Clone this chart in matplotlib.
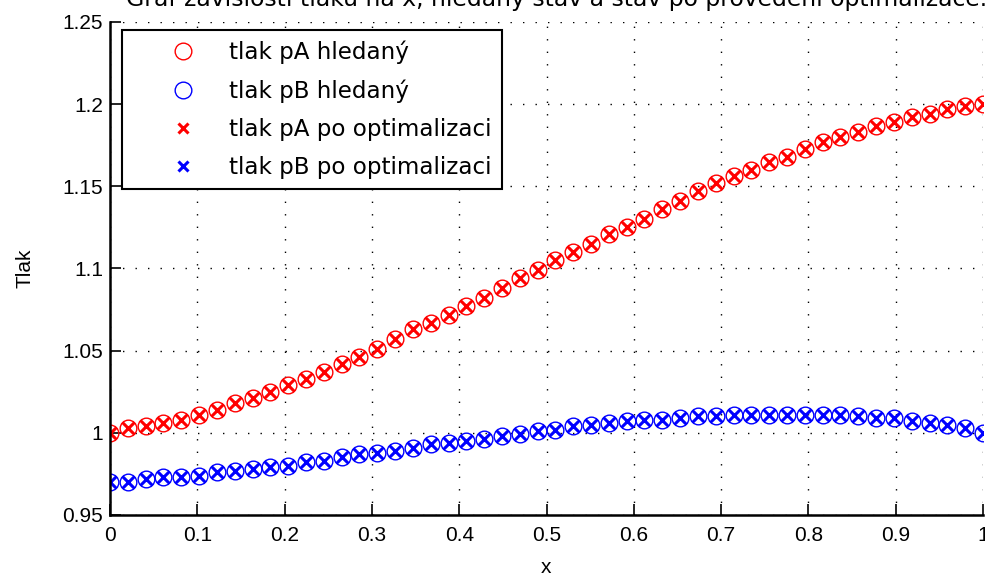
import numpy as np
import matplotlib.pyplot as plt
from matplotlib import font_manager
from matplotlib.lines import Line2D

# 50 uzlu na intervalu <0, 1>
x = np.linspace(0, 1, 50)

pA_hledany = [1.000, 1.003, 1.004, 1.006, 1.008, 1.011, 1.014, 1.018, 1.021, 1.025,
              1.029, 1.033, 1.037, 1.042, 1.046, 1.051, 1.057, 1.063, 1.067, 1.072,
              1.077, 1.082, 1.088, 1.094, 1.099, 1.105, 1.110, 1.115, 1.121, 1.125,
              1.130, 1.136, 1.141, 1.147, 1.152, 1.156, 1.160, 1.165, 1.168, 1.173,
              1.177, 1.180, 1.183, 1.187, 1.189, 1.192, 1.194, 1.197, 1.199, 1.200]
pB_hledany = [0.970, 0.970, 0.972, 0.973, 0.973, 0.974, 0.976, 0.977, 0.978, 0.979,
              0.980, 0.982, 0.983, 0.985, 0.987, 0.988, 0.989, 0.991, 0.993, 0.994,
              0.995, 0.996, 0.998, 0.999, 1.001, 1.002, 1.004, 1.005, 1.006, 1.007,
              1.008, 1.008, 1.009, 1.010, 1.010, 1.011, 1.011, 1.011, 1.011, 1.011,
              1.011, 1.011, 1.010, 1.009, 1.009, 1.007, 1.006, 1.005, 1.003, 1.000]
# vysledek optimalizace se s hledanym stavem kryje
pA_opt = list(pA_hledany)
pB_opt = list(pB_hledany)

xticks = [0, 0.1, 0.2, 0.3, 0.4, 0.5, 0.6, 0.7, 0.8, 0.9, 1]
xticklabels = ['0', '0.1', '0.2', '0.3', '0.4', '0.5', '0.6', '0.7', '0.8', '0.9', '1']
yticks = [0.95, 1.0, 1.05, 1.1, 1.15, 1.2, 1.25]
yticklabels = ['0.95', '1', '1.05', '1.1', '1.15', '1.2', '1.25']

# uzke pismo pro popisky os, pokud je k dispozici
installed = {f.name for f in font_manager.fontManager.ttflist}
narrow = 'Liberation Sans'
for name in ['Liberation Sans Narrow', 'DejaVu Sans Condensed']:
    if name in installed:
        narrow = name
        break
tick_size = 17.5 if narrow == 'Liberation Sans Narrow' else 15

fig = plt.figure(figsize=(9.85, 5.8), dpi=100)
ax = fig.add_axes([110 / 985, 1 - 515 / 580, 873 / 985, 493 / 580])

ax.plot(x, pA_hledany, 'o', color='red', mfc='none', ms=12, mew=1.0)
ax.plot(x, pB_hledany, 'o', color='blue', mfc='none', ms=12, mew=1.0)
ax.plot(x, pA_opt, 'x', color='red', ms=8, mew=2.2)
ax.plot(x, pB_opt, 'x', color='blue', ms=8, mew=2.2)

ax.set_xlim(0, 1)
ax.set_ylim(0.95, 1.25)
ax.set_xticks(xticks)
ax.set_xticklabels(xticklabels, family=narrow, fontsize=tick_size)
ax.set_yticks(yticks)
ax.set_yticklabels(yticklabels, family=narrow, fontsize=tick_size)
ax.tick_params(direction='in', length=8, width=1.2)
ax.tick_params(axis='x', pad=8)
ax.tick_params(axis='y', pad=5)

ax.grid(True, color='black', linestyle=(0, (1, 8)), linewidth=1.0)
ax.spines['top'].set_visible(False)
ax.spines['right'].set_visible(False)
ax.spines['left'].set_linewidth(1.8)
ax.spines['bottom'].set_linewidth(1.8)

ax.set_xlabel('x', family=narrow, fontsize=tick_size, labelpad=9)
ax.set_ylabel('Tlak', family=narrow, fontsize=tick_size, labelpad=20)

# nadpis je nahore oriznuty okrajem obrazku
fig.text(0.565, 1 - 6 / 580, 'Graf závislosti tlaku na x, hledaný stav a stav po provedení optimalizace.',
         ha='center', va='baseline', fontsize=16.9, family='DejaVu Sans')

handles = [
    Line2D([], [], ls='none', marker='o', color='red', mfc='none', ms=12, mew=1.0),
    Line2D([], [], ls='none', marker='o', color='blue', mfc='none', ms=12, mew=1.0),
    Line2D([], [], ls='none', marker='x', color='red', ms=7, mew=2.2),
    Line2D([], [], ls='none', marker='x', color='blue', ms=7, mew=2.2),
]
labels = ['tlak pA hledaný', 'tlak pB hledaný',
          'tlak pA po optimalizaci', 'tlak pB po optimalizaci']
leg = ax.legend(handles, labels, loc='upper left', bbox_to_anchor=(12 / 873, 1 - 8 / 493),
                borderaxespad=0, fancybox=False, framealpha=1, edgecolor='black',
                prop={'family': 'DejaVu Sans', 'size': 16.6}, handlelength=4.4,
                handletextpad=-0.2, labelspacing=0.66, borderpad=0.45)
leg.get_frame().set_linewidth(1.5)

fig.savefig('out.png', dpi=100)
